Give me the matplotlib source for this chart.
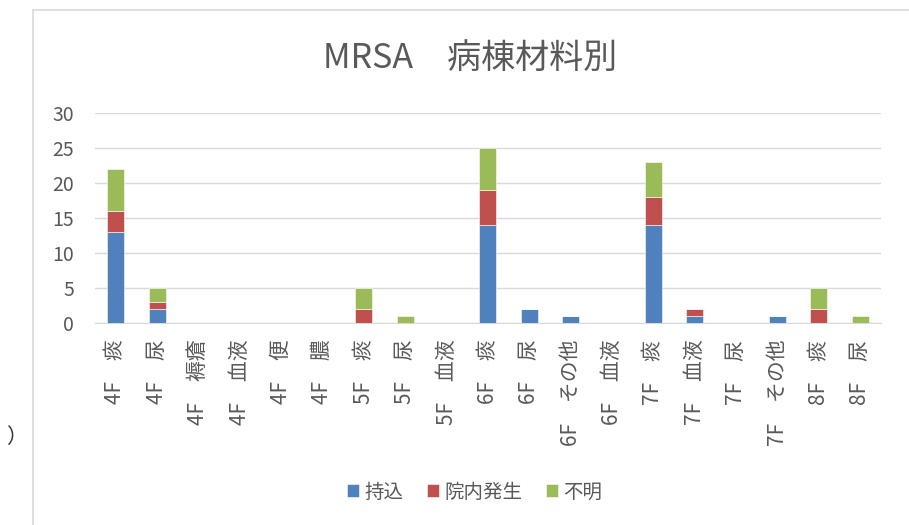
import matplotlib.pyplot as plt
from matplotlib.lines import Line2D
import numpy as np

plt.rcParams['font.family'] = ['Noto Sans CJK JP', 'DejaVu Sans']

categories = ['4F　痰', '4F　尿', '4F　褥瘡', '4F　血液', '4F　便', '4F　膿',
              '5F　痰', '5F　尿', '5F　血液', '6F　痰', '6F　尿', '6F　その他',
              '6F　血液', '7F　痰', '7F　血液', '7F　尿', '7F　その他', '8F　痰', '8F　尿']
mochikomi = [13, 2, 0, 0, 0, 0, 0, 0, 0, 14, 2, 1, 0, 14, 1, 0, 1, 0, 0]
innai = [3, 1, 0, 0, 0, 0, 2, 0, 0, 5, 0, 0, 0, 4, 1, 0, 0, 2, 0]
fumei = [6, 2, 0, 0, 0, 0, 3, 1, 0, 6, 0, 0, 0, 5, 0, 0, 0, 3, 1]
series_names = ['持込', '院内発生', '不明']
colors = ['#4F81BD', '#C0504D', '#9BBB59']
yticks = [0, 5, 10, 15, 20, 25, 30]

fig = plt.figure(figsize=(9.09, 5.25), dpi=100)
ax = fig.add_axes([0.1045, 0.3848, 0.8645, 0.40])

x = np.arange(len(categories))
bottom = np.zeros(len(categories))
for vals, name, c in zip([mochikomi, innai, fumei], series_names, colors):
    ax.bar(x, vals, width=0.41, bottom=bottom, color=c, label=name,
           edgecolor='white', linewidth=0.4, zorder=3)
    bottom += np.array(vals)

ax.set_xlim(-0.5, len(categories) - 0.5)
ax.set_ylim(0, 30)
ax.set_yticks(yticks)
ax.grid(axis='y', color='#d9d9d9', linewidth=1, zorder=0)
for s in ['top', 'right', 'left']:
    ax.spines[s].set_visible(False)
ax.spines['bottom'].set_color('#d9d9d9')
ax.tick_params(axis='both', length=0, colors='#595959')
ax.tick_params(axis='y', labelsize=14, pad=15)
ax.tick_params(axis='x', labelsize=15, pad=12)
ax.set_xticks(x)
ax.set_xticklabels(categories, rotation=90, va='top', ha='center')

fig.text(470 / 909, 1 - 58 / 525, 'MRSA　病棟材料別', ha='center', va='center',
         fontsize=24.5, color='#595959')

ax.legend(loc='center', bbox_to_anchor=((475 / 909 - 0.1045) / 0.8645, (1 - 492 / 525 - 0.3848) / 0.40),
          ncol=3, frameon=False, fontsize=14, handlelength=0.6, handleheight=0.6,
          handletextpad=0.3, columnspacing=1.2, labelcolor='#595959')

# chart area border (screenshot crop)
fig.add_artist(Line2D([33 / 909, 33 / 909], [0, 1 - 10 / 525], color='#d9d9d9', linewidth=1.2))
fig.add_artist(Line2D([33 / 909, 1], [1 - 10 / 525, 1 - 10 / 525], color='#d9d9d9', linewidth=1.2))
fig.text(0.007, 1 - 437 / 525, '）', ha='left', va='center', fontsize=15, color='#333333')

fig.savefig('out.png', dpi=100)
